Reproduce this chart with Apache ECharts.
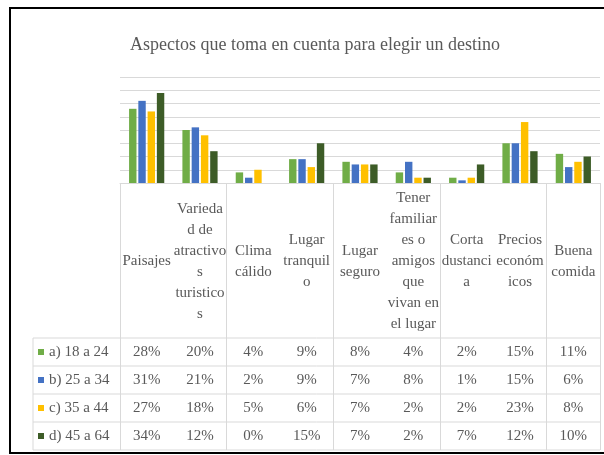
<!DOCTYPE html>
<html>
<head>
<meta charset="utf-8">
<script src="https://cdn.jsdelivr.net/npm/echarts@6/dist/echarts.min.js"></script>
<style>
  html, body { margin: 0; padding: 0; background: #fff; }
  #chart { width: 604px; height: 455px; }
</style>
</head>
<body>
<div id="chart"></div>
<script>
// categorias (con los cortes de linea como en la tabla de datos)
const categories = [
  'Paisajes',
  'Varieda\nd de\natractivo\ns\nturistico\ns',
  'Clima\ncálido',
  'Lugar\ntranquil\no',
  'Lugar\nseguro',
  'Tener\nfamiliar\nes o\namigos\nque\nvivan en\nel lugar',
  'Corta\ndustanci\na',
  'Precios\neconóm\nicos',
  'Buena\ncomida'
]
const groups = ['a) 18 a 24', 'b) 25 a 34', 'c) 35 a 44', 'd) 45 a 64']
const age18 = [28, 20, 4, 9, 8, 4, 2, 15, 11]
const age25 = [31, 21, 2, 9, 7, 8, 1, 15, 6]
const age35 = [27, 18, 5, 6, 7, 2, 2, 23, 8]
const age45 = [34, 12, 0, 15, 7, 2, 7, 12, 10]
const yTicks = [0, 5, 10, 15, 20, 25, 30, 35, 40]

const values = [age18, age25, age35, age45]
const colors = ['#70ad47', '#4472c4', '#ffc000', '#3d5c27']

const txt = '#595959'
const lineCol = '#d9d9d9'
const serif = "'Liberation Serif', 'Times New Roman', serif"

// tabla: cabecera 183..338, filas de 28px
const plotLeft = 120, plotRight = 600, plotTop = 77, plotBottom = 183
const headBottom = 338, rowH = 28, keyLeft = 33

const myChart = echarts.init(document.getElementById('chart'))

// filas de valores como ejes extra bajo el grafico
const rowAxes = values.map((vals, i) => ({
  type: 'category',
  gridIndex: 0,
  position: 'bottom',
  data: categories,
  axisLine: { show: false },
  axisTick: { show: false },
  splitLine: { show: false },
  axisLabel: {
    interval: 0,
    margin: headBottom + rowH * i + rowH / 2 - plotBottom,
    verticalAlign: 'middle',
    color: txt,
    fontFamily: serif,
    fontSize: 15,
    formatter: (v, idx) => vals[idx] + '%'
  }
}))

const tableLines = []
for (let i = 0; i <= groups.length; i++) {
  const y = headBottom + rowH * i
  tableLines.push({
    type: 'line',
    shape: { x1: keyLeft, y1: y, x2: plotRight, y2: y },
    style: { stroke: lineCol, lineWidth: 1 },
    silent: true
  })
}
tableLines.push({
  type: 'line',
  shape: { x1: keyLeft, y1: headBottom, x2: keyLeft, y2: headBottom + rowH * groups.length },
  style: { stroke: lineCol, lineWidth: 1 },
  silent: true
})

myChart.setOption({
  animation: false,
  title: {
    text: 'Aspectos que toma en cuenta para elegir un destino',
    left: 310,
    textAlign: 'center',
    top: 31,
    textStyle: { color: txt, fontFamily: serif, fontSize: 18, fontWeight: 'normal' }
  },
  legend: {
    data: groups,
    orient: 'vertical',
    left: 38,
    top: headBottom + 6,
    padding: 0,
    itemGap: 12,
    icon: 'rect',
    itemWidth: 6,
    itemHeight: 6,
    textStyle: { color: txt, fontFamily: serif, fontSize: 15, lineHeight: 16 }
  },
  grid: [
    { left: plotLeft, right: 604 - plotRight, top: plotTop, height: plotBottom - plotTop },
    { left: plotLeft, right: 604 - plotRight, top: plotBottom, height: headBottom + rowH * groups.length - plotBottom }
  ],
  xAxis: [
    {
      type: 'category',
      gridIndex: 0,
      data: categories,
      axisLine: { show: true, lineStyle: { color: lineCol } },
      axisTick: { show: false },
      axisLabel: {
        interval: 0,
        margin: (headBottom - plotBottom) / 2 + 1,
        verticalAlign: 'middle',
        lineHeight: 21,
        color: txt,
        fontFamily: serif,
        fontSize: 15
      }
    },
    {
      type: 'category',
      gridIndex: 1,
      data: categories,
      axisLine: { show: false },
      axisTick: { show: false },
      axisLabel: { show: false },
      splitLine: { show: true, lineStyle: { color: lineCol } }
    },
    ...rowAxes
  ],
  yAxis: [
    {
      type: 'value',
      gridIndex: 0,
      min: yTicks[0],
      max: yTicks[yTicks.length - 1],
      interval: yTicks[1] - yTicks[0],
      axisLabel: { show: false },
      axisLine: { show: false },
      axisTick: { show: false },
      splitLine: { lineStyle: { color: lineCol } }
    },
    {
      type: 'value',
      gridIndex: 1,
      show: false
    }
  ],
  series: values.map((vals, i) => ({
    name: groups[i],
    type: 'bar',
    xAxisIndex: 0,
    yAxisIndex: 0,
    data: vals,
    barGap: '25%',
    barCategoryGap: '34%',
    itemStyle: { color: colors[i] }
  })),
  graphic: [
    ...tableLines,
    {
      type: 'rect',
      shape: { x: 10, y: 8, width: 620, height: 445 },
      style: { fill: 'none', stroke: '#000', lineWidth: 2 },
      silent: true
    }
  ]
})
</script>
</body>
</html>
